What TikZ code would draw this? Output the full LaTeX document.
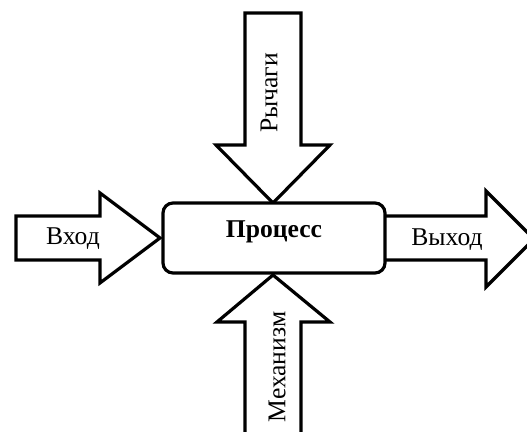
\documentclass[tikz,border=0pt]{standalone}
\usepackage{fontspec}
\setmainfont{Liberation Serif}
\begin{document}
\begin{tikzpicture}[x=0.5pt,y=-0.5pt,
  arr/.style={draw=black,line width=1.6pt,fill=white,line join=miter},
  lbl/.style={font=\fontsize{12.8}{15}\selectfont,inner sep=0pt},
  proc/.style={draw=black,line width=1.6pt,fill=white,rounded corners=5pt}]
\useasboundingbox (0,0) rectangle (527,432);
\clip (0,0) rectangle (527,432);
% input arrow
\draw[arr] (16,216) -- (100,216) -- (100,193) -- (160,238) -- (100,283) -- (100,260) -- (16,260) -- cycle;
% output arrow
\draw[arr] (380,216) -- (486,216) -- (486,191) -- (534,239) -- (486,287) -- (486,260) -- (380,260) -- cycle;
% control arrow
\draw[arr] (245,13) -- (301,13) -- (301,145) -- (330,145) -- (273,203) -- (216,145) -- (245,145) -- cycle;
% mechanism arrow
\draw[arr] (245,445) -- (245,322) -- (217,322) -- (273,275) -- (330,322) -- (301,322) -- (301,445);
% process box
\node[proc,minimum width=111pt,minimum height=35pt] (p) at (274,238) {};
\node[lbl,font=\fontsize{12.8}{15}\selectfont\bfseries] (pt) at (274,232) {Процесс};
\node[lbl] (in) at (73,239) {Вход};
\node[lbl] (out) at (447,240) {Выход};
\node[lbl,rotate=90] (ctl) at (269,93) {Рычаги};
\node[lbl,rotate=90] (mech) at (277,367) {Механизм};
\end{tikzpicture}
\end{document}
